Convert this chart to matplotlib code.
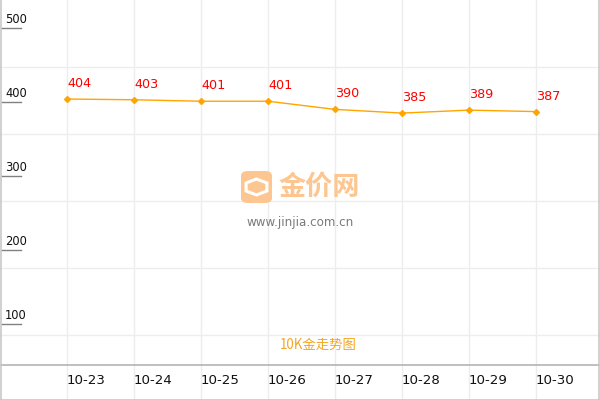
import matplotlib
matplotlib.use("Agg")
import matplotlib.pyplot as plt
from matplotlib.patches import FancyBboxPatch, RegularPolygon

# 10K gold price, late October
dates = ["10-23", "10-24", "10-25", "10-26", "10-27", "10-28", "10-29", "10-30"]
prices = [404, 403, 401, 401, 390, 385, 389, 387]
y_ticks = [100, 200, 300, 400, 500]
title = "10K金走势图"

plt.rcParams["font.family"] = ["DejaVu Sans", "Noto Sans CJK SC"]

fig = plt.figure(figsize=(6, 4), dpi=100)
ax = fig.add_axes([0, 0, 1, 1])
ax.set_xlim(-1, 600 / 67 - 1)
ax.set_ylim(-2.7, 537.8)
ax.axis("off")

ytrans = ax.get_yaxis_transform()   # x in axes, y in data
xtrans = ax.get_xaxis_transform()   # x in data, y in axes

grid_c = "#ededed"
# background grid
for i in range(len(dates)):
    ax.axvline(i, color=grid_c, lw=1, zorder=0)
for py in [67, 134, 201, 268, 335]:
    ax.plot([0, 1], [1 - py / 400] * 2, transform=ax.transAxes, color=grid_c, lw=1, zorder=0)

# frame
axis_c = "#b4b4b4"
ax.plot([0, 1], [1 - 364.5 / 400] * 2, transform=ax.transAxes, color=axis_c, lw=1.2)
ax.plot([0, 1], [0.5 / 400] * 2, transform=ax.transAxes, color="#c8c8c8", lw=1.2)
ax.plot([0.5 / 600] * 2, [0, 1], transform=ax.transAxes, color="#c8c8c8", lw=1.2)
ax.plot([598.5 / 600] * 2, [0, 1], transform=ax.transAxes, color="#c8c8c8", lw=1.2)

# y labels with short underline
for v in y_ticks:
    ax.plot([2 / 600, 21 / 600], [v, v], transform=ytrans, color="#808080", lw=1)
    ax.text(5 / 600, v + 3, str(v), transform=ytrans, ha="left", va="bottom",
            fontsize=8.3, color="#111111")

# x labels
for i, d in enumerate(dates):
    ax.text(i, 1 - 381 / 400, d, transform=xtrans, ha="left", va="center",
            fontsize=9.6, color="#111111")

# watermark
logo = FancyBboxPatch((241 / 600, 1 - 203 / 400), 31 / 600, 32 / 400,
                      boxstyle="round,pad=0,rounding_size=0.012",
                      transform=ax.transAxes, fc="#fdc690", ec="none", zorder=1)
ax.add_patch(logo)
ax.add_patch(RegularPolygon((256.5 / 600, 1 - 187 / 400), 6, radius=0.02,
                            transform=ax.transAxes, fc="none", ec="white", lw=2.2, zorder=2))
ax.text(278 / 600, 1 - 187 / 400, "金价网", transform=ax.transAxes, ha="left", va="center",
        fontsize=19.5, fontweight="bold", color="#fdc690", family=["Noto Sans CJK SC"], zorder=1)
ax.text(300 / 600, 1 - 222 / 400, "www.jinjia.com.cn", transform=ax.transAxes,
        ha="center", va="center", fontsize=8.6, color="#7a7a7a", zorder=1)

# title
ax.text(318 / 600, 1 - 345 / 400, title, transform=ax.transAxes, ha="center", va="center",
        fontsize=9.6, color="#f5a623", family=["Noto Sans CJK SC"])

# price line
ax.plot(range(len(prices)), prices, color="#ffa500", lw=1.0, marker="D", ms=3.0, zorder=3)
for i, p in enumerate(prices):
    ax.annotate(str(p), (i, p), xytext=(0, 6.5), textcoords="offset points",
                ha="left", va="bottom", fontsize=9.2, color="#ff0000")

fig.savefig("out.png", dpi=100)
